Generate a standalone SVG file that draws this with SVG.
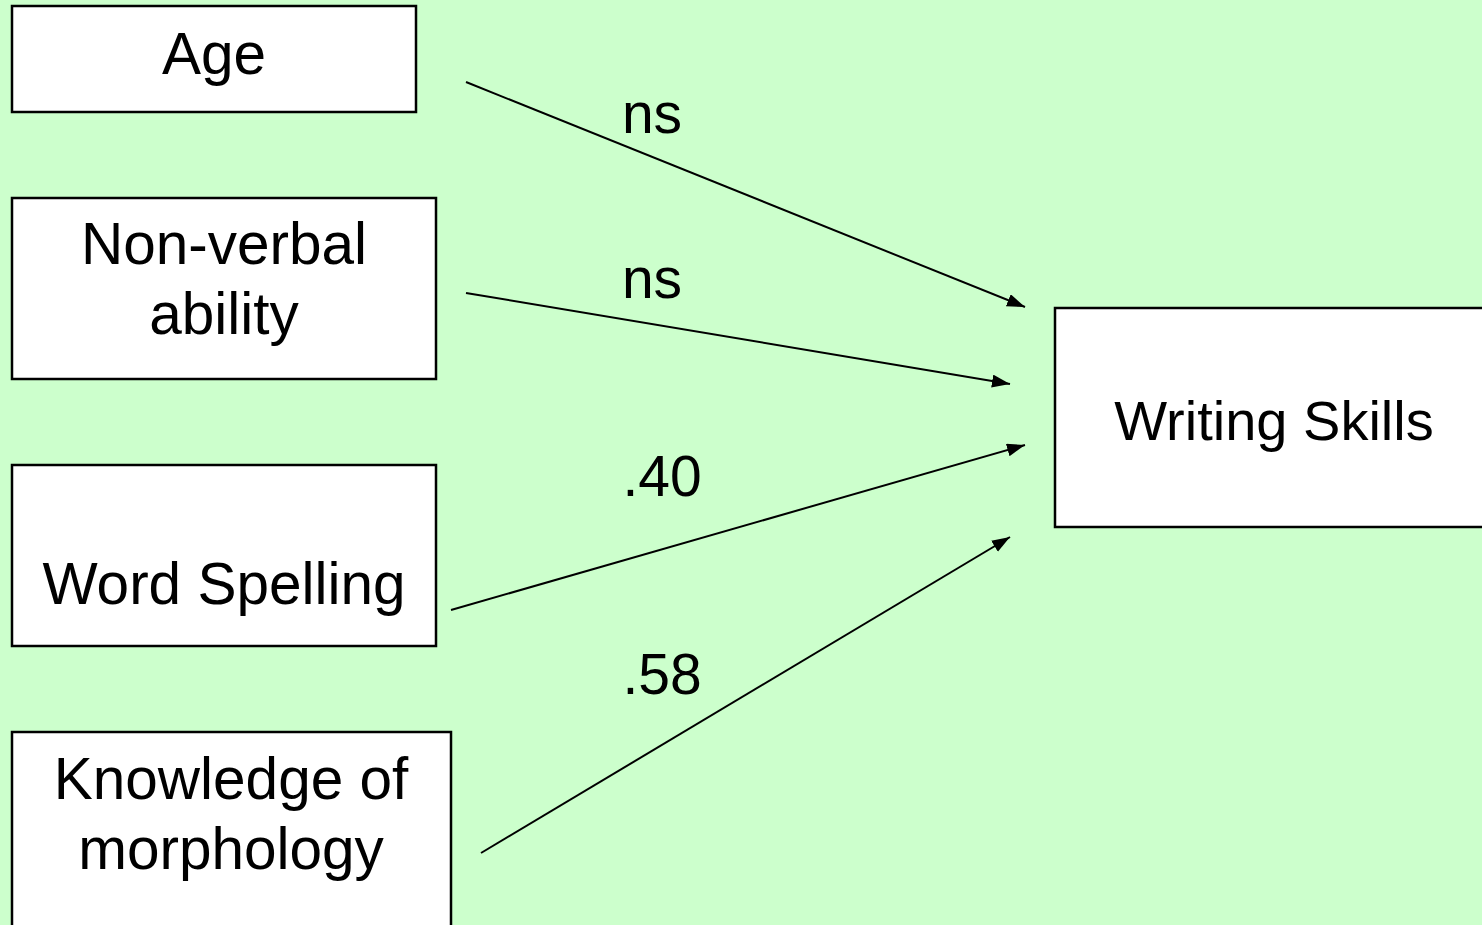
<svg xmlns="http://www.w3.org/2000/svg" width="1482" height="925" viewBox="0 0 1482 925">
<style>
.box{fill:#fff;stroke:#000;stroke-width:2.5}
.t{font-family:"Liberation Sans",Arial,sans-serif;font-size:58.5px;fill:#000;text-anchor:middle}
.w{font-size:56px}
.l{font-size:57px}
.c{stroke:#000;stroke-width:2;fill:none;marker-end:url(#ah)}
</style>
<defs>
<marker id="ah" markerUnits="userSpaceOnUse" markerWidth="20" markerHeight="14" refX="18" refY="6.5" orient="auto">
<path d="M0,0 L18,6.5 L0,13 Z" fill="#000"/>
</marker>
</defs>
<rect width="1482" height="925" fill="#CCFFCC"/>
<g id="age"><rect class="box" x="12" y="6" width="404" height="106"/><text class="t" x="214" y="74">Age</text></g>
<g id="nonverbal"><rect class="box" x="12" y="198" width="424" height="181"/><text class="t" x="224" y="264">Non-verbal</text><text class="t" x="224" y="334">ability</text></g>
<g id="spelling"><rect class="box" x="12" y="465" width="424" height="181"/><text class="t" x="224" y="604">Word Spelling</text></g>
<g id="morphology"><rect class="box" x="12" y="732" width="439" height="200"/><text class="t" x="231" y="799">Knowledge of</text><text class="t" x="231" y="869">morphology</text></g>
<g id="writing"><rect class="box" x="1055" y="308" width="440" height="219"/><text class="t w" x="1274" y="440">Writing Skills</text></g>
<g id="connectors">
<line class="c" x1="466" y1="82" x2="1025" y2="307"/>
<line class="c" x1="466" y1="293" x2="1010" y2="384"/>
<line class="c" x1="451" y1="610" x2="1025" y2="445"/>
<line class="c" x1="481" y1="853" x2="1010" y2="537"/>
<text class="t l" x="652" y="133">ns</text>
<text class="t l" x="652" y="298">ns</text>
<text class="t l" x="662" y="496">.40</text>
<text class="t l" x="662" y="694">.58</text>
</g>
</svg>
